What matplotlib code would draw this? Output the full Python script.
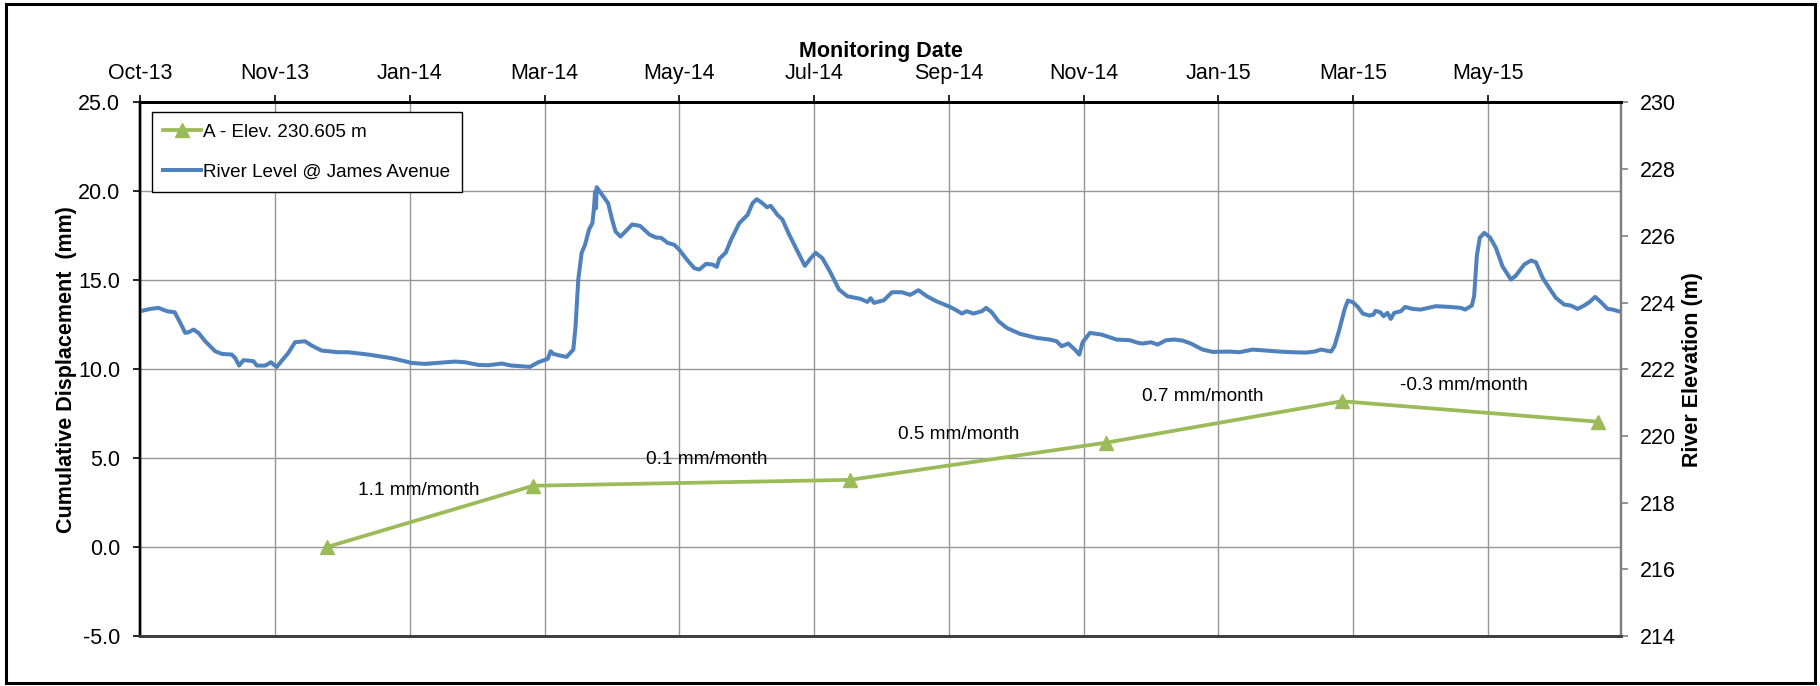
import matplotlib
matplotlib.use('Agg')
import matplotlib.pyplot as plt
import matplotlib.dates as mdates
from matplotlib.patches import Rectangle
import pandas as pd

plt.rcParams['font.family'] = ['Liberation Sans', 'DejaVu Sans']

# Settlement point A (cumulative displacement, mm)
survey_dates = ['2013-12-23', '2014-03-25', '2014-08-13', '2014-12-05', '2015-03-20', '2015-07-12']
displacement = [0.0, 3.45, 3.78, 5.87, 8.2, 7.05]
rate_labels = ['1.1 mm/month', '0.1 mm/month', '0.5 mm/month', '0.7 mm/month', '-0.3 mm/month']

# River level record, days after 1 Oct 2013 and elevation (m)
river_day = [0, 4.4, 8.1, 11.9, 15.3, 17.8, 20, 21.5, 23.7, 25.9, 28.9, 33.3, 36.3, 40.7, 42.2,
             44, 45.9, 48.1, 50.4, 51.9, 55.6, 58.2, 59.3, 60.7, 63.7, 65.9, 68.9, 73.3, 76.3,
             80.7, 88.1, 92.6, 101.5, 111.1, 113.3, 117.8, 120.7, 126.7, 132.6, 140, 144.5,
             150.5, 154.9, 160.9, 165.3, 169.8, 173.5, 177.2, 181.4, 182.7, 183.9, 186.9,
             189.8, 192.8, 193.8, 195, 196.5, 198, 199.8, 201.3, 202, 202.5, 202.9, 203.2,
             204.9, 208.3, 210.1, 211.6, 213.8, 216, 219, 222.5, 223, 226.7, 229.6, 231.9,
             234.8, 237.8, 240, 243.7, 246.7, 248.9, 251.9, 254.8, 256.7, 257.8, 260.7, 263,
             266.7, 270.4, 272.6, 274.5, 277, 279, 280.7, 283.7, 285.9, 288.9, 292.6, 295.9,
             298.5, 300.7, 303.7, 307.4, 311.1, 314.8, 320.7, 323.7, 325.2, 326.7, 331.1,
             334.7, 339.1, 342.8, 346.5, 350.2, 354.7, 359.9, 362.8, 365.8, 368, 371, 374.7,
             376.6, 379.1, 382.1, 385.8, 391.7, 399.1, 405, 408, 410.2, 413.2, 416.1, 418.1,
             419.6, 422.8, 428, 434.7, 440.6, 444.3, 446.3, 450, 453, 456.7, 460.4, 464.1,
             467.8, 473, 477.5, 484.9, 489.4, 495.3, 501.2, 507.2, 513.1, 519.1, 522.8, 525.8,
             530.2, 531.7, 533.9, 536.2, 537.7, 539.9, 542.1, 544.3, 547.3, 549.1, 550, 552.1,
             553.6, 555.3, 556.8, 558.3, 561.3, 563.2, 566.4, 570.1, 576.8, 582.8, 588, 589.9,
             592.9, 593.9, 595.1, 596.4, 598.4, 600.9, 603.6, 606.5, 610.3, 612.5, 616.2,
             619.2, 621.4, 624.4, 627.3, 630.3, 634, 637, 640, 642.9, 645.2, 647.8, 650.4,
             653.3, 655.6, 658.1]
river_elev = [223.74, 223.81, 223.84, 223.74, 223.71, 223.39, 223.09, 223.11, 223.19, 223.09,
              222.84, 222.54, 222.46, 222.44, 222.34, 222.11, 222.27, 222.26, 222.24, 222.11,
              222.11, 222.21, 222.14, 222.07, 222.31, 222.49, 222.81, 222.84, 222.71, 222.56,
              222.51, 222.51, 222.44, 222.34, 222.31, 222.24, 222.19, 222.16, 222.19, 222.23,
              222.21, 222.13, 222.12, 222.17, 222.11, 222.09, 222.07, 222.21, 222.31, 222.54,
              222.46, 222.41, 222.37, 222.59, 223.29, 224.69, 225.49, 225.73, 226.19, 226.38,
              226.83, 227.33, 226.83, 227.46, 227.30, 226.98, 226.48, 226.13, 225.98, 226.13,
              226.34, 226.30, 226.27, 226.04, 225.95, 225.94, 225.79, 225.73, 225.58, 225.26,
              225.03, 224.99, 225.16, 225.14, 225.07, 225.31, 225.50, 225.88, 226.38, 226.63,
              226.98, 227.10, 226.98, 226.86, 226.90, 226.63, 226.49, 226.04, 225.54, 225.10,
              225.33, 225.49, 225.33, 224.89, 224.39, 224.19, 224.11, 224.02, 224.13, 223.99,
              224.07, 224.31, 224.31, 224.23, 224.37, 224.19, 224.03, 223.89, 223.79, 223.67,
              223.74, 223.67, 223.74, 223.84, 223.71, 223.44, 223.24, 223.06, 222.94, 222.89,
              222.84, 222.69, 222.77, 222.59, 222.44, 222.81, 223.09, 223.04, 222.89, 222.87,
              222.79, 222.77, 222.81, 222.74, 222.87, 222.89, 222.86, 222.77, 222.59, 222.52,
              222.53, 222.51, 222.59, 222.56, 222.53, 222.51, 222.50, 222.53, 222.59, 222.53,
              222.69, 223.19, 223.79, 224.06, 224.01, 223.87, 223.67, 223.61, 223.64, 223.75,
              223.71, 223.59, 223.69, 223.51, 223.69, 223.74, 223.87, 223.81, 223.79, 223.89,
              223.87, 223.84, 223.79, 223.91, 224.19, 225.39, 225.94, 226.09, 225.96, 225.64,
              225.09, 224.69, 224.81, 225.14, 225.26, 225.21, 224.74, 224.44, 224.14, 223.94,
              223.91, 223.81, 223.91, 224.01, 224.17, 224.01, 223.81, 223.79, 223.74]

start = pd.Timestamp('2013-10-01')
river_dates = start + pd.to_timedelta(river_day, unit='D')
survey = pd.to_datetime(survey_dates)

green = '#9BBB59'
blue = '#4F81BD'
fs = 15.5

fig = plt.figure(figsize=(18.2, 6.86), dpi=100)
ax = fig.add_axes([0.0771, 0.0729, 0.8138, 0.7777])
ax2 = ax.twinx()

ax.plot(survey, displacement, color=green, lw=2.7, marker='^', ms=10,
        label='A - Elev. 230.605 m', zorder=3)
ax2.plot(river_dates, river_elev, color=blue, lw=2.9, label='River Level @ James Avenue')

# rate labels above each segment
offsets = [(-8, 19), (11, 17), (-14, 19), (-15, 18), (-4, 19)]
for i, txt in enumerate(rate_labels):
    xm = survey[i] + (survey[i + 1] - survey[i]) / 2
    ym = (displacement[i] + displacement[i + 1]) / 2
    ax.annotate(txt, (mdates.date2num(xm), ym), xytext=offsets[i], textcoords='offset points',
                ha='center', va='center', fontsize=13.7)

# date axis along the top, 60 day steps
ticks = [start + pd.Timedelta(days=60 * k) for k in range(11)]
ax.set_xlim(mdates.date2num(start), mdates.date2num(start + pd.Timedelta(days=659.5)))
ax.set_xticks([mdates.date2num(t) for t in ticks])
ax.xaxis.set_major_formatter(mdates.DateFormatter('%b-%y'))
ax.xaxis.tick_top()
ax.xaxis.set_label_position('top')
ax.set_xlabel('Monitoring Date', fontsize=fs, fontweight='bold', labelpad=4)

ax.set_ylim(-5, 25)
ax.set_yticks(range(-5, 26, 5))
ax.set_yticklabels([f'{v:.1f}' for v in range(-5, 26, 5)])
ax.set_ylabel('Cumulative Displacement  (mm)', fontsize=fs, fontweight='bold', labelpad=1)

ax2.set_ylim(214, 230)
ax2.set_yticks(range(214, 231, 2))
ax2.set_ylabel('River Elevation (m)', fontsize=fs, fontweight='bold', labelpad=4)

ax.grid(True, color='#969696', lw=1.0)
ax.set_axisbelow(True)
ax.tick_params(axis='x', which='both', direction='out', length=5, width=1.2, pad=8.5,
               labelsize=fs, top=True, bottom=False, color='black')
ax.tick_params(axis='y', direction='out', length=5, width=1.2, pad=9.5, labelsize=fs, color='black')
ax2.tick_params(axis='y', direction='out', length=5, width=1.2, pad=8.6, labelsize=fs, color='#808080')

for a in (ax, ax2):
    a.spines['top'].set_color('black')
    a.spines['top'].set_linewidth(2.0)
    a.spines['left'].set_color('black')
    a.spines['left'].set_linewidth(1.7)
    a.spines['bottom'].set_color('#404040')
    a.spines['bottom'].set_linewidth(2.0)
    a.spines['right'].set_color('#808080')
    a.spines['right'].set_linewidth(1.6)

h1, l1 = ax.get_legend_handles_labels()
h2, l2 = ax2.get_legend_handles_labels()
leg = ax2.legend(h1 + h2, l1 + l2, loc='upper left', bbox_to_anchor=(152 / 1820, 1 - 112 / 686),
                 bbox_transform=fig.transFigure, borderaxespad=0, fontsize=13.6, fancybox=False,
                 framealpha=1, edgecolor='black', handlelength=2.0, handletextpad=0.12,
                 labelspacing=1.2, borderpad=0.6)
leg.get_frame().set_linewidth(1.0)

# border round the whole chart
fig.patches.append(Rectangle((6 / 1820, 3 / 686), 1809 / 1820, 679 / 686, transform=fig.transFigure,
                             fill=False, lw=2.2, ec='black'))

fig.savefig('out.png', dpi=100)
